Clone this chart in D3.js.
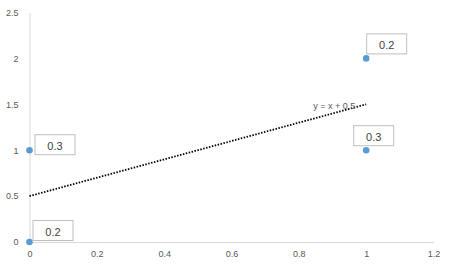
<!DOCTYPE html>
<html>
<head>
<meta charset="utf-8">
<script src="https://cdn.jsdelivr.net/npm/d3@7"></script>
<style>
  body { margin: 0; background: #fff; }
  svg { display: block; font-family: "Liberation Sans", Arial, sans-serif; }
</style>
</head>
<body>
<div id="chart"></div>
<script>
'use strict'

// data
let xValues = [0, 0, 1, 1]
let yValues = [0, 1, 2, 1]
let pointLabels = ["0.2", "0.3", "0.2", "0.3"]
let xTicks = [0, 0.2, 0.4, 0.6, 0.8, 1, 1.2]
let yTicks = [0, 0.5, 1, 1.5, 2, 2.5]
let trendSlope = 1
let trendIntercept = 0.5
let trendRange = [0, 1]
let trendText = "y = x + 0.5"

// layout
let width = 450
let height = 270
let x0 = 29.5
let x1 = 433.5
let yBottom = 242
let yTop = 12.5
// where each label box sits relative to its point (dx, dy of box top-left)
let labelOffsets = [[3, -22], [5, -16], [0, -25], [-13, -25]]
let boxW = 40
let boxH = 20

let svg = d3.select("#chart").append("svg")
  .attr("width", width)
  .attr("height", height)

let xscale = d3.scaleLinear().domain([0, 1.2]).range([x0, x1])
let yscale = d3.scaleLinear().domain([0, 2.5]).range([yBottom, yTop])

let gridColor = "#d9d9d9"
let textColor = "#595959"

// y axis
let yAxis = svg.append("g")
  .attr("transform", "translate(" + x0 + ",0)")
  .call(d3.axisLeft(yscale).tickValues(yTicks).tickSize(0).tickPadding(11)
    .tickFormat(d3.format("")))
yAxis.select(".domain").attr("stroke", gridColor)
yAxis.selectAll("text").attr("fill", textColor).style("font-size", "9px")

// x axis
let xAxis = svg.append("g")
  .attr("transform", "translate(0," + yBottom + ")")
  .call(d3.axisBottom(xscale).tickValues(xTicks).tickSize(0).tickPadding(9)
    .tickFormat(d3.format("")))
xAxis.select(".domain").attr("stroke", gridColor)
xAxis.selectAll("text").attr("fill", textColor).style("font-size", "9px")

// trendline
svg.append("line")
  .attr("x1", xscale(trendRange[0]))
  .attr("y1", yscale(trendSlope * trendRange[0] + trendIntercept))
  .attr("x2", xscale(trendRange[1]))
  .attr("y2", yscale(trendSlope * trendRange[1] + trendIntercept))
  .attr("stroke", "#000")
  .attr("stroke-width", 1.8)
  .attr("stroke-dasharray", "1.5,1.5")

svg.append("text")
  .attr("x", xscale(trendRange[1]) - 11)
  .attr("y", yscale(trendSlope * trendRange[1] + trendIntercept) + 5)
  .attr("text-anchor", "end")
  .attr("fill", textColor)
  .style("font-size", "9px")
  .text(trendText)

// points
let points = xValues.map((x, i) => ({ x: x, y: yValues[i], label: pointLabels[i], off: labelOffsets[i] }))

svg.selectAll("circle")
  .data(points)
  .enter()
  .append("circle")
  .attr("cx", d => xscale(d.x))
  .attr("cy", d => yscale(d.y))
  .attr("r", 3.3)
  .attr("fill", "#5b9bd5")

let labels = svg.selectAll(".lab")
  .data(points)
  .enter()
  .append("g")
  .attr("class", "lab")
  .attr("transform", d => "translate(" + (xscale(d.x) + d.off[0]) + "," + (yscale(d.y) + d.off[1]) + ")")

labels.append("rect")
  .attr("x", 0.5)
  .attr("y", 0.5)
  .attr("width", boxW)
  .attr("height", boxH)
  .attr("fill", "#fff")
  .attr("stroke", "#bfbfbf")

labels.append("text")
  .attr("x", boxW / 2 + 0.5)
  .attr("y", 15.5)
  .attr("text-anchor", "middle")
  .attr("fill", "#404040")
  .style("font-size", "11px")
  .text(d => d.label)
</script>
</body>
</html>
